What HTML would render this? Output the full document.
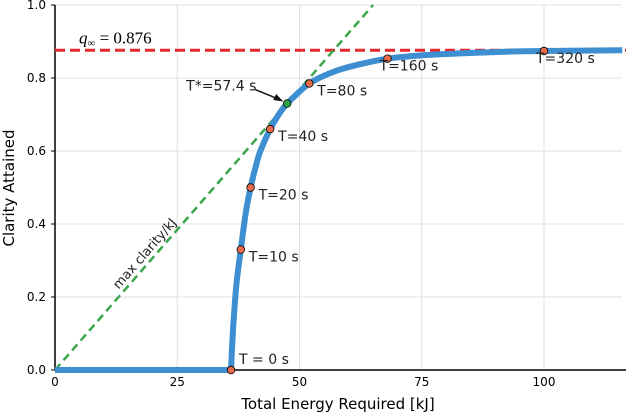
<!DOCTYPE html>
<html><head><meta charset="utf-8"><style>
body{margin:0;background:#fff}
svg{display:block;font-family:"DejaVu Sans","Liberation Sans",sans-serif}
</style></head><body>
<svg id="c" width="626" height="414"></svg>
<script>
const xTicks=[0,25,50,75,100];
const yTicks=[0,0.2,0.4,0.6,0.8,1.0];
const yTickLabels=["0.0","0.2","0.4","0.6","0.8","1.0"];
const curveT=[0,1,2,3,5,7,10,15,20,25,30,40,50,57.4,65,80,100,120,160,200,240,280,320,400];
const curveQ=[0,0.06,0.11,0.15,0.22,0.27,0.33,0.43,0.50,0.555,0.60,0.66,0.705,0.73,0.75,0.785,0.812,0.83,0.853,0.863,0.868,0.872,0.874,0.876];
const markT=[0,10,20,40,80,160,320];
const markQ=[0,0.33,0.50,0.66,0.785,0.853,0.874];
const markLabels=["T = 0 s","T=10 s","T=20 s","T=40 s","T=80 s","T=160 s","T=320 s"];
const qInf=0.876;
const tStar=57.4, qStar=0.73;
const E0=36, ePerT=0.2;

const X=v=>55+v*4.89, Y=v=>370-v*365;
const E=t=>E0+ePerT*t;
const s=document.getElementById('c');
const NS='http://www.w3.org/2000/svg';
function el(tag,attrs,parent){const e=document.createElementNS(NS,tag);for(const k in attrs)e.setAttribute(k,attrs[k]);(parent||s).appendChild(e);return e;}

xTicks.forEach((v,i)=>{
 if(v>0){const g=el('line',{x1:X(v),x2:X(v),y1:5,y2:370,stroke:'#e0e0e0','stroke-width':1});
 
 }
 const t=el('text',{x:X(v),y:386,'text-anchor':'middle','font-size':12,fill:'#000'});t.textContent=v;
 
 
});
yTicks.forEach((v,i)=>{
 if(v>0){const g=el('line',{x1:55,x2:622,y1:Y(v),y2:Y(v),stroke:'#e0e0e0','stroke-width':1});
 
 }
 el('line',{x1:51,x2:55,y1:Y(v),y2:Y(v),stroke:'#000'});
 const t=el('text',{x:46,y:Y(v)+4,'text-anchor':'end','font-size':12,fill:'#000'});t.textContent=yTickLabels[i];
 
 
});
const ax=el('path',{d:'M55 5V370H626',fill:'none',stroke:'#000','stroke-width':1.5});



const rl=el('line',{x1:55,x2:626,y1:Y(qInf),y2:Y(qInf),stroke:'#e5282e','stroke-width':3,'stroke-dasharray':'10 5'});


const rt=el('text',{x:79,y:Y(qInf)-7,'font-size':17,'font-family':'Liberation Serif,serif',fill:'#000'});
rt.innerHTML='<tspan font-style="italic">q</tspan><tspan font-size="11" dy="3">∞</tspan><tspan dy="-3"> = 0.876</tspan>';



const slope=qStar/E(tStar);
const xe=1/slope;
const gl=el('line',{x1:X(0),y1:Y(0),x2:X(xe),y2:Y(1),stroke:'#3aa64c','stroke-width':2.5,'stroke-dasharray':'8 5'});


const ang=-Math.atan(slope*365/4.89)*180/Math.PI;
const gt=el('text',{x:0,y:0,'font-size':13,'text-anchor':'middle',fill:'#222',transform:`translate(${X(19)},${Y(19*slope)-7}) rotate(${ang})`});
gt.textContent='max clarity/kJ';



// smooth curve (Catmull-Rom)
const pts=[[X(0),Y(0)]].concat(curveT.map((t,i)=>[X(E(t)),Y(curveQ[i])]));
let d=`M${pts[0][0]} ${pts[0][1]}L${pts[1][0]} ${pts[1][1]}`;
for(let i=1;i<pts.length-1;i++){
 const p0=pts[Math.max(1,i-1)],p1=pts[i],p2=pts[i+1],p3=pts[Math.min(pts.length-1,i+2)];
 d+=`C${p1[0]+(p2[0]-p0[0])/6} ${p1[1]+(p2[1]-p0[1])/6} ${p2[0]-(p3[0]-p1[0])/6} ${p2[1]-(p3[1]-p1[1])/6} ${p2[0]} ${p2[1]}`;
}
const cv=el('path',{d:d,fill:'none',stroke:'#3d8fd1','stroke-width':6,'stroke-linejoin':'round'});



markT.forEach((t,i)=>{
 const c=el('circle',{cx:X(E(t)),cy:Y(markQ[i]),r:3.8,fill:'#ea6b4b',stroke:'#000','stroke-width':0.8});
 
 
 const dx=i==0?8:(i>=5?-8:8), dy=i==0?-6:(i>=5?12:12);
 const lt=el('text',{x:X(E(t))+dx,y:Y(markQ[i])+dy,'font-size':14,fill:'#222'});
 lt.textContent=markLabels[i];
 
 
});
const sx=X(E(tStar)), sy=Y(qStar);
const ar=el('path',{d:`M${sx-32} ${sy-14}L${sx-5} ${sy-3}`,stroke:'#111','stroke-width':1.5,fill:'none'});


el('path',{d:`M${sx-4} ${sy-2}l-10 -1.5l3 -6z`,fill:'#111'});
const sc=el('circle',{cx:sx,cy:sy,r:3.8,fill:'#2aa24a',stroke:'#000','stroke-width':0.8});


const st=el('text',{x:sx-101,y:sy-13,'font-size':14,fill:'#222'});
st.textContent='T*=57.4 s';



const xt=el('text',{x:338,y:409,'text-anchor':'middle','font-size':15,fill:'#000'});
xt.textContent='Total Energy Required [kJ]';


const yt=el('text',{x:0,y:0,'text-anchor':'middle','font-size':15,fill:'#000',transform:'translate(14,188) rotate(-90)'});
yt.textContent='Clarity Attained';


</script>
</body></html>
